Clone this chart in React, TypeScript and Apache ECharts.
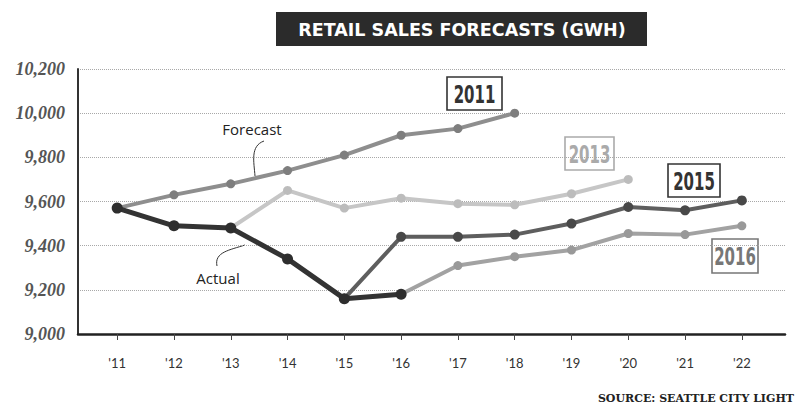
import React, { useEffect, useRef } from "react";
import * as echarts from "echarts";

const years = [11, 12, 13, 14, 15, 16, 17, 18, 19, 20, 21, 22];
const yTicks = [9000, 9200, 9400, 9600, 9800, 10000, 10200];
const actual = [9570, 9490, 9480, 9340, 9160, 9180, null, null, null, null, null, null];
const f2011 = [9570, 9630, 9680, 9740, 9810, 9900, 9930, 10000, null, null, null, null];
const f2013 = [null, null, 9480, 9650, 9570, 9615, 9590, 9585, 9635, 9700, null, null];
const f2015 = [null, null, null, null, 9160, 9440, 9440, 9450, 9500, 9575, 9560, 9605];
const f2016 = [null, null, null, null, null, 9180, 9310, 9350, 9380, 9455, 9450, 9490];

const pairs = (arr: (number | null)[]) =>
  years.map((y, i) => [y, arr[i]]).filter((p) => p[1] !== null);

const mkSeries = (name: string, arr: (number | null)[], line: string, mark: string, w: number, size: number, z: number) => ({
  name,
  type: "line",
  data: pairs(arr),
  symbol: "circle",
  symbolSize: size,
  z,
  lineStyle: { color: line, width: w },
  itemStyle: { color: mark },
});

const boxLabel = (text: string, x: number, y: number, w: number, h: number, color: string) => ({
  type: "group",
  x,
  y,
  children: [
    { type: "rect", shape: { x: 0, y: 0, width: w, height: h }, style: { fill: "#fff", stroke: color, lineWidth: 1.6 } },
    {
      type: "text",
      x: w / 2,
      y: h / 2 + 1,
      scaleX: 0.6,
      style: {
        text,
        fill: color,
        font: "bold 25px 'DejaVu Sans', sans-serif",
        align: "center",
        verticalAlign: "middle",
      },
    },
  ],
});

export default function App() {
  const ref = useRef<HTMLDivElement>(null);
  useEffect(() => {
    const chart = echarts.init(ref.current!, null, { renderer: "svg" });
    chart.setOption({
      animation: false,
      backgroundColor: "#fff",
      grid: { left: 78, right: 11, top: 69, bottom: 73 },
      xAxis: {
        type: "value",
        min: 10.31,
        max: 22.76,
        splitLine: { show: false },
        axisLine: { show: true, onZero: false, lineStyle: { color: "#222", width: 2.5 } },
        axisTick: { show: true, customValues: years, length: 6, lineStyle: { color: "#444" } },
        axisLabel: {
          customValues: years,
          formatter: (v: number) => "'" + v,
          margin: 22,
          fontSize: 13,
          fontFamily: "Lato, sans-serif",
          color: "#333",
        },
      },
      yAxis: {
        type: "value",
        min: yTicks[0],
        max: yTicks[yTicks.length - 1],
        interval: 200,
        axisLine: { show: true, lineStyle: { color: "#333", width: 2 } },
        axisTick: { show: false },
        splitLine: { show: true, lineStyle: { color: "#a8a8a8", type: "dotted", width: 1 } },
        axisLabel: {
          margin: 13,
          fontSize: 18,
          fontWeight: "bold",
          fontStyle: "italic",
          fontFamily: "'Liberation Serif', 'DejaVu Serif', serif",
          color: "#555",
          padding: [6, 0, 0, 0],
          formatter: (v: number) => v.toLocaleString("en-US"),
        },
      },
      series: [
        mkSeries("2013", f2013, "#c6c6c6", "#bcbcbc", 4, 9, 2),
        mkSeries("2011", f2011, "#8e8e8e", "#7e7e7e", 4, 9, 3),
        mkSeries("2016", f2016, "#a2a2a2", "#999", 4, 9, 3),
        mkSeries("2015", f2015, "#5e5e5e", "#484848", 4, 10, 4),
        mkSeries("Actual", actual, "#333", "#2e2e2e", 5, 11, 5),
      ],
      graphic: [
        {
          type: "rect",
          shape: { x: 276, y: 12, width: 371, height: 34 },
          style: { fill: "#2b2b2b" },
        },
        {
          type: "text",
          x: 462,
          y: 30,
          style: {
            text: "RETAIL SALES FORECASTS (GWH)",
            fill: "#fff",
            font: "bold 17.5px 'DejaVu Sans', sans-serif",
            align: "center",
            verticalAlign: "middle",
          },
        },
        {
          type: "text",
          x: 252,
          y: 129,
          style: { text: "Forecast", fill: "#222", font: "15px 'Open Sans', sans-serif", align: "center", verticalAlign: "middle" },
        },
        {
          type: "bezierCurve",
          shape: { x1: 264, y1: 141, cpx1: 250, cpy1: 146, cpx2: 254, cpy2: 162, x2: 255, y2: 176 },
          style: { stroke: "#333", lineWidth: 1, fill: "none" },
        },
        {
          type: "text",
          x: 218,
          y: 278,
          style: { text: "Actual", fill: "#222", font: "15px 'Open Sans', sans-serif", align: "center", verticalAlign: "middle" },
        },
        {
          type: "bezierCurve",
          shape: { x1: 217, y1: 266, cpx1: 214, cpy1: 252, cpx2: 230, cpy2: 250, x2: 245, y2: 245 },
          style: { stroke: "#333", lineWidth: 1, fill: "none" },
        },
        boxLabel("2011", 447, 77, 55, 33, "#333"),
        boxLabel("2013", 565, 137, 49, 33, "#aaa"),
        boxLabel("2015", 668, 164, 52, 33, "#333"),
        boxLabel("2016", 712, 239, 46, 34, "#777"),
        {
          type: "text",
          x: 794,
          y: 398,
          style: {
            text: "SOURCE: SEATTLE CITY LIGHT",
            fill: "#222",
            font: "bold 11px 'DejaVu Serif', serif",
            align: "right",
            verticalAlign: "middle",
          },
        },
      ],
    });
    return () => chart.dispose();
  }, []);
  return <div ref={ref} style={{ position: "fixed", left: 0, top: 0, width: 796, height: 407 }} />;
}
